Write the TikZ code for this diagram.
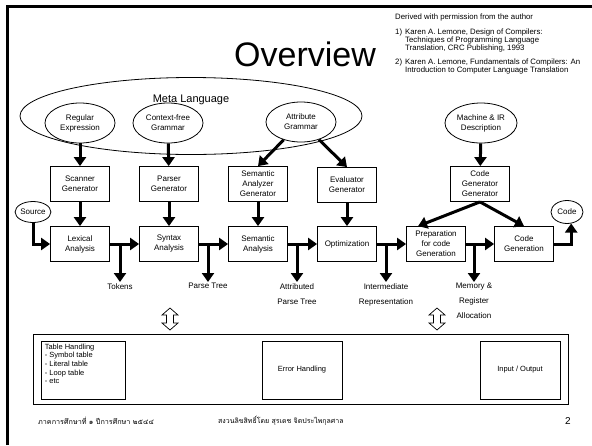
\documentclass[tikz,border=0pt]{standalone}
\usepackage{fontspec}
\setmainfont{Liberation Sans}
\newfontfamily\thaifont[Script=Thai]{Loma}
\usetikzlibrary{arrows.meta, positioning, shapes.geometric}

\begin{document}
\begin{tikzpicture}[x=1pt, y=-1pt,
    every node/.style={font=\fontsize{8}{10}\selectfont},
    box/.style={draw, line width=0.8pt, minimum width=59pt, minimum height=35pt, align=center, inner sep=1pt},
    oval/.style={draw, ellipse, line width=0.8pt, minimum width=70pt, minimum height=40pt, align=center, inner sep=0pt},
    flow/.style={line width=3pt, -{Triangle[length=9pt, width=12pt]}},
    lbl/.style={anchor=north, align=center, inner sep=1pt},
    refs/.style={anchor=north west, align=left, inner sep=0pt, font=\fontsize{7.8}{8}\selectfont},
    hollow/.style={draw, line width=0.7pt, fill=white}]
    \useasboundingbox (0,0) rectangle (592,445);

    % Frame
    \draw[line width=3pt] (7,445) -- (7,6) -- (592,6);

    % Title and references
    \node[font=\fontsize{34}{40}\selectfont] (title) at (305,54) {Overview};
    \node[refs] (refhd) at (395,14) {Derived with permission from the author};
    \node[refs] (num1) at (395,29) {1)};
    \node[refs] (ref1) at (405,29) {Karen A. Lemone, Design of Compilers:\\Techniques of Programming Language\\Translation, CRC Publishing, 1993};
    \node[refs] (num2) at (395,59) {2)};
    \node[refs] (ref2) at (405,59) {Karen A. Lemone, Fundamentals of Compilers: An\\Introduction to Computer Language Translation};

    % Meta language
    \node[draw, ellipse, line width=0.8pt, minimum width=342pt, minimum height=77pt] (meta) at (191,116) {};
    \node[font=\fontsize{11}{13}\selectfont] (metalbl) at (191,100) {Meta Language};
    \node[oval] (regex) at (80,123) {Regular\\Expression};
    \node[oval] (cfg) at (168,123) {Context-free\\Grammar};
    \node[oval] (attr) at (301,122) {Attribute\\Grammar};
    \node[oval, minimum width=72pt] (mach) at (481,123) {Machine \& IR\\Description};

    % Generators
    \node[box] (scan) at (80,184) {Scanner\\Generator};
    \node[box] (pars) at (169,184) {Parser\\Generator};
    \node[box] (sag) at (258,184) {Semantic\\Analyzer\\Generator};
    \node[box] (eval) at (347,185) {Evaluator\\Generator};
    \node[box] (cgg) at (480,184) {Code\\Generator\\Generator};

    % Phases
    \node[draw, ellipse, line width=0.8pt, minimum width=34pt, minimum height=21pt, inner sep=0pt] (src) at (33,212) {Source};
    \node[box] (lex) at (80,244) {Lexical\\Analysis};
    \node[box] (syn) at (169,244) {Syntax\\Analysis};
    \node[box] (sem) at (258,244) {Semantic\\Analysis};
    \node[box] (opt) at (347,244) {Optimization};
    \node[box] (prep) at (436,244) {Preparation\\for code\\Generation};
    \node[box] (cgen) at (524,244) {Code\\Generation};
    \node[draw, ellipse, line width=0.8pt, minimum width=32pt, minimum height=23pt, inner sep=0pt] (code) at (567,212) {Code};

    % Outputs
    \node[lbl] (tok) at (120,282) {Tokens};
    \node[lbl] (ptree) at (208,282) {Parse Tree};
    \node[lbl] (atree) at (297,282) {Attributed\\[5pt]Parse Tree};
    \node[lbl] (ir) at (386,282) {Intermediate\\[5pt]Representation};
    \node[lbl] (mem) at (474,282) {Memory \&\\[5pt]Register\\[5pt]Allocation};

    % Arrows
    \draw[flow] (regex) -- (scan);
    \draw[flow] (cfg) -- (pars);
    \draw[flow] (attr) -- (sag.north);
    \draw[flow] (attr) -- (eval.north);
    \draw[flow] (mach) -- (cgg);
    \draw[flow] (scan) -- (lex);
    \draw[flow] (pars) -- (syn);
    \draw[flow] (sag) -- (sem);
    \draw[flow] (eval) -- (opt);
    \draw[flow] (cgg.south) -- (prep.135);
    \draw[flow] (cgg.south) -- (cgen.north);
    \draw[flow] (src.south) |- (lex.west);
    \draw[flow] (lex) -- (syn);
    \draw[flow] (syn) -- (sem);
    \draw[flow] (sem) -- (opt);
    \draw[flow] (opt) -- (prep);
    \draw[flow] (prep) -- (cgen);
    \draw[flow] (cgen.east) -| (code.-70);
    \draw[flow] (tok |- lex.east) -- (tok.north);
    \draw[flow] (ptree |- syn.east) -- (ptree.north);
    \draw[flow] (atree |- sem.east) -- (atree.north);
    \draw[flow] (ir |- opt.east) -- (ir.north);
    \draw[flow] (mem |- prep.east) -- (mem.north);

    % Two-way links to the support block
    \draw[hollow] (170,308) -- ++(8,7) -- ++(-4.5,0) -- ++(0,8) -- ++(4.5,0) -- ++(-8,7) -- ++(-8,-7) -- ++(4.5,0) -- ++(0,-8) -- ++(-4.5,0) -- cycle;
    \draw[hollow] (437,308) -- ++(8,7) -- ++(-4.5,0) -- ++(0,8) -- ++(4.5,0) -- ++(-8,7) -- ++(-8,-7) -- ++(4.5,0) -- ++(0,-8) -- ++(-4.5,0) -- cycle;

    % Support block
    \node[draw, line width=0.8pt, minimum width=535pt, minimum height=70pt] (aux) at (300.5,369) {};
    \node[draw, line width=0.8pt, minimum width=84pt, minimum height=58pt] (tbl) at (83,370) {};
    \node[anchor=north west, align=left, inner sep=0pt, font=\fontsize{7.5}{8.6}\selectfont, below right=3pt and 4pt of tbl.north west] (tbltxt) {Table Handling\\- Symbol table\\- Literal table\\- Loop table\\- etc};
    \node[draw, line width=0.8pt, minimum width=80pt, minimum height=58pt, font=\fontsize{7.5}{9}\selectfont] (err) at (302,370) {Error Handling};
    \node[draw, line width=0.8pt, minimum width=80pt, minimum height=58pt, font=\fontsize{7.5}{9}\selectfont] (io) at (520,370) {Input / Output};

    % Footer
    \node[anchor=west, inner sep=0pt, font=\thaifont\fontsize{7.2}{8}\selectfont] (term) at (38,421) {ภาคการศึกษาที่ ๑ ปีการศึกษา ๒๕๔๔};
    \node[anchor=west, inner sep=0pt, font=\thaifont\fontsize{7}{8}\selectfont] (copy) at (218,421) {สงวนลิขสิทธิ์โดย สุรเดช จิตประไพกุลศาล};
    \node[font=\fontsize{10}{12}\selectfont] (page) at (568,421) {2};
\end{tikzpicture}
\end{document}
